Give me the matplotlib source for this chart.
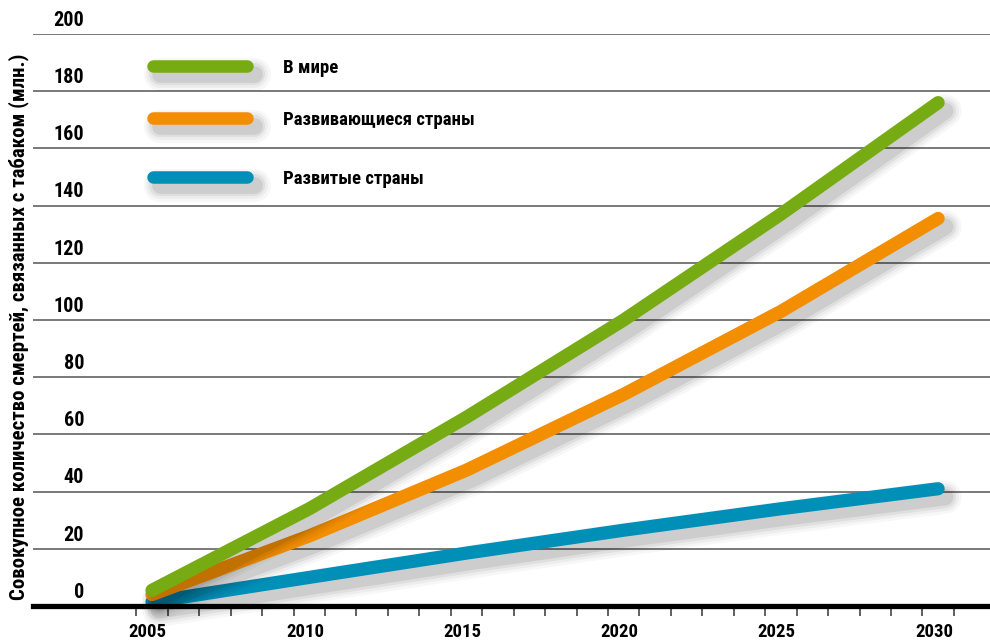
import matplotlib
matplotlib.use("Agg")
import matplotlib.pyplot as plt
import matplotlib.patheffects as pe
from matplotlib import font_manager
from matplotlib.transforms import blended_transform_factory

# Data (cumulative deaths, millions)
years = [2005, 2010, 2015, 2020, 2025, 2030]
world = [5.5, 34.0, 66.0, 100.0, 137.0, 176.0]
developing = [4.0, 24.5, 47.5, 74.0, 103.0, 135.5]
developed = [1.4, 10.0, 18.5, 26.5, 34.0, 41.0]

series_names = ["В мире", "Развивающиеся страны", "Развитые страны"]
series_colors = ["#77AB14", "#F28E00", "#008FB7"]
y_ticks = [0, 20, 40, 60, 80, 100, 120, 140, 160, 180, 200]
x_labels = [2005, 2010, 2015, 2020, 2025, 2030]
y_title = "Совокупное количество смертей, связанных с табаком (млн.)"


def pick_font():
    for name in ["Liberation Sans Narrow", "Roboto Condensed", "Open Sans Condensed", "DejaVu Sans"]:
        try:
            font_manager.findfont(name, fallback_to_default=False)
            return name
        except Exception:
            continue
    return "DejaVu Sans"


font = pick_font()
plt.rcParams['font.family'] = [font, 'DejaVu Sans']
plt.rcParams['font.weight'] = 'bold'


def shadow_effects():
    # soft drop shadow: several widening, faint strokes
    fx = []
    for w, a in [(24, 0.03), (20, 0.04), (16, 0.06), (12, 0.08)]:
        fx.append(pe.SimpleLineShadow(offset=(5, -6), shadow_color='black', alpha=a, linewidth=w))
    fx.append(pe.Normal())
    return fx


fig = plt.figure(figsize=(9.9, 6.41), dpi=100)
ax = fig.add_axes([33 / 990, 35 / 641, 957 / 990, 572 / 641])

ax.set_xlim(2001.215, 2031.65)
ax.set_ylim(0, 200)

for s in ['top', 'left', 'right']:
    ax.spines[s].set_visible(False)
ax.spines['bottom'].set_linewidth(3.8)
ax.spines['bottom'].set_color('black')
ax.spines['bottom'].set_zorder(5)

# horizontal gridlines
for v in y_ticks[1:]:
    ax.axhline(v, color='#555555', lw=1.1, zorder=1)

# y labels sit above each gridline
trans = blended_transform_factory(ax.transAxes, ax.transData)
for v in y_ticks:
    ax.annotate(str(v), xy=(0.0533, v), xycoords=trans, xytext=(0, 3),
                textcoords='offset points', ha='right', va='bottom',
                fontsize=14.5, fontweight='bold')

ax.set_yticks([])

# minor ticks on the year boundaries, labels centred on years
ax.set_xticks([y - 0.5 for y in range(2005, 2032)])
ax.set_xticklabels([])
ax.tick_params(axis='x', length=7.5, width=1.2, color='#444444', direction='out', pad=2)
for yr in x_labels:
    ax.annotate(str(yr), xy=(yr, 0), xycoords=('data', 'axes fraction'),
                xytext=(-3, -18.5), textcoords='offset points',
                ha='center', va='center', fontsize=13.5, fontweight='bold',
                annotation_clip=False)

# lines, drawn back to front so shadows fall over the lower ones
all_series = [world, developing, developed]
for vals, col in reversed(list(zip(all_series, series_colors))):
    ax.plot(years, vals, color=col, lw=9.5, solid_capstyle='round',
            solid_joinstyle='round', zorder=3, path_effects=shadow_effects(),
            clip_on=False)

# hand-made legend
legend_y = [0.944, 0.853, 0.750]
for name, col, ly in zip(series_names, series_colors, legend_y):
    ax.plot([0.1254, 0.2236], [ly, ly], transform=ax.transAxes, color=col,
            lw=9, solid_capstyle='round', path_effects=shadow_effects(), zorder=4)
    ax.text(0.261, ly - 0.004, name, transform=ax.transAxes, ha='left', va='center',
            fontsize=13.5, fontweight='bold')

fig.text(0.019, 0.49, y_title, rotation=90, ha='center', va='center',
         fontsize=15, fontweight='bold')

fig.savefig("out.png", dpi=100)
